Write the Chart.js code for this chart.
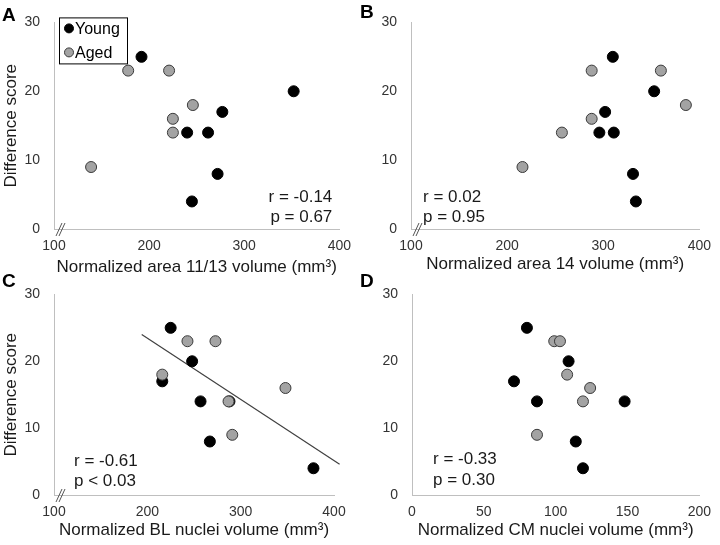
<!DOCTYPE html>
<html>
<head>
<meta charset="utf-8">
<script src="https://cdn.jsdelivr.net/npm/chart.js@4.4.0/dist/chart.umd.min.js"></script>
<style>
  body { margin: 0; background: #fff; }
  #wrap { position: relative; width: 720px; height: 545px; overflow: hidden; }
  #wrap canvas { position: absolute; }
</style>
</head>
<body>
<div id="wrap">
  <canvas id="chartA" width="360" height="290" style="left:0;top:0"></canvas>
  <canvas id="chartB" width="360" height="290" style="left:360px;top:0"></canvas>
  <canvas id="chartC" width="360" height="273" style="left:0;top:272px"></canvas>
  <canvas id="chartD" width="360" height="273" style="left:360px;top:272px"></canvas>
</div>
<script>
// difference scores, same animals in every panel
const youngScore = [25, 20, 17, 14, 14, 8, 4];
const agedScore = [23, 23, 18, 16, 14, 9];

// normalized volumes (mm3), same order as the scores above
const area1113Young = [192, 352, 277, 240, 262, 272, 245];
const area1113Aged = [178, 221, 246, 225, 225, 139];
const area14Young = [310, 353, 302, 296, 311, 331, 334];
const area14Aged = [288, 360, 386, 288, 257, 216];
const blYoung = [225, 248, 216, 257, 288, 267, 378];
const blAged = [243, 273, 216, 348, 287, 291];
const cmYoung = [80, 109, 71, 87, 148, 114, 119];
const cmAged = [99, 103, 108, 124, 119, 87];

// trend line in panel C
const blFitX = [194, 406];
const blFitY = [24.0, 4.6];

const FONT = '"Liberation Sans", Arial, sans-serif';
Chart.defaults.font.family = FONT;

const toPoints = (xs, ys) => xs.map((x, i) => ({ x: x, y: ys[i] }));

// panel letter, r/p text, legend box and the axis break
const decor = {
  id: 'decor',
  afterDraw(chart, args, o) {
    const ctx = chart.ctx;
    const a = chart.chartArea;
    ctx.save();
    ctx.fillStyle = '#000';
    ctx.font = 'bold 19px ' + FONT;
    ctx.textAlign = 'left';
    ctx.textBaseline = 'alphabetic';
    ctx.fillText(o.letter, o.letterX, o.letterY);

    ctx.font = '17px ' + FONT;
    ctx.fillStyle = '#1a1a1a';
    ctx.textAlign = o.statsAlign;
    const sx = o.statsAlign === 'right' ? a.right - o.statsDx : a.left + o.statsDx;
    ctx.fillText(o.stats[0], sx, a.bottom - o.statsDy[0]);
    ctx.fillText(o.stats[1], sx, a.bottom - o.statsDy[1]);

    if (o.axisBreak) {
      ctx.strokeStyle = '#555';
      ctx.lineWidth = 1;
      ctx.beginPath();
      ctx.moveTo(a.left + 2, a.bottom + 7);
      ctx.lineTo(a.left + 8, a.bottom - 6);
      ctx.moveTo(a.left + 5, a.bottom + 7);
      ctx.lineTo(a.left + 11, a.bottom - 6);
      ctx.stroke();
    }

    if (o.legend) {
      const lx = a.left + 5, ly = a.top - 5;
      ctx.strokeStyle = '#000';
      ctx.lineWidth = 1;
      ctx.strokeRect(lx + 0.5, ly + 0.5, 68, 46);
      ctx.font = '16px ' + FONT;
      ctx.textAlign = 'left';
      ctx.textBaseline = 'middle';
      const items = chart.data.datasets.filter(d => d.inLegend);
      items.forEach((d, i) => {
        const cy = ly + 11 + i * 24;
        ctx.beginPath();
        ctx.arc(lx + 10, cy, 4.5, 0, Math.PI * 2);
        ctx.fillStyle = d.backgroundColor;
        ctx.fill();
        ctx.strokeStyle = d.borderColor;
        ctx.stroke();
        ctx.fillStyle = '#000';
        ctx.fillText(d.label, lx + 16, cy + 1);
      });
    }
    ctx.restore();
  }
};

function makePanel(id, p) {
  const datasets = [
    {
      label: 'Aged', inLegend: true, order: 0,
      data: toPoints(p.agedX, agedScore),
      backgroundColor: '#a3a3a3', borderColor: '#3a3a3a',
      borderWidth: 1, pointRadius: 5.5
    },
    {
      label: 'Young', inLegend: true, order: 1,
      data: toPoints(p.youngX, youngScore),
      backgroundColor: '#000', borderColor: '#000',
      borderWidth: 1, pointRadius: 5.5
    }
  ];
  // legend lists Young first
  datasets.sort((d1, d2) => d2.order - d1.order);
  if (p.fitX) {
    datasets.push({
      label: 'fit', inLegend: false, order: 2,
      data: toPoints(p.fitX, p.fitY),
      showLine: true, pointRadius: 0, clip: false,
      borderColor: '#404040', borderWidth: 1.2
    });
  }

  return new Chart(document.getElementById(id), {
    type: 'scatter',
    data: { datasets: datasets },
    plugins: [decor],
    options: {
      responsive: false,
      animation: false,
      layout: { padding: { left: 0, top: p.padTop, right: p.padRight, bottom: 0 } },
      plugins: {
        legend: { display: false },
        tooltip: { enabled: false },
        decor: p.decor
      },
      scales: {
        x: {
          type: 'linear', min: p.xMin, max: p.xMax,
          grid: { display: false, drawTicks: false },
          border: { display: true, color: '#bfbfbf' },
          ticks: { stepSize: p.xStep, autoSkip: false, color: '#333', font: { size: 14 }, padding: 9 },
          title: { display: true, text: p.xTitle, color: '#1a1a1a', font: { size: 17 }, padding: { top: 0, bottom: p.xTitlePad } },
          afterFit(s) { s.height = p.xH; }
        },
        y: {
          min: 0, max: 30,
          grid: { display: false, drawTicks: false },
          border: { display: true, color: '#bfbfbf' },
          ticks: { stepSize: 10, color: '#333', font: { size: 14 }, padding: 14 },
          title: { display: p.yTitle, text: 'Difference score', color: '#1a1a1a', font: { size: 17 }, padding: { top: 1.5, bottom: 0 } },
          afterFit(s) { s.width = p.yW; }
        }
      }
    }
  });
}

makePanel('chartA', {
  youngX: area1113Young, agedX: area1113Aged,
  xMin: 100, xMax: 400, xStep: 100,
  xTitle: 'Normalized area 11/13 volume (mm³)', yTitle: true,
  padTop: 13, padRight: 12, yW: 54, xH: 61, xTitlePad: 12.8,
  decor: { letter: 'A', letterX: 2, letterY: 21, stats: ['r = -0.14', 'p = 0.67'],
           statsAlign: 'right', statsDx: 7, statsDy: [27, 7], axisBreak: true, legend: true }
});

makePanel('chartB', {
  youngX: area14Young, agedX: area14Aged,
  xMin: 100, xMax: 400, xStep: 100,
  xTitle: 'Normalized area 14 volume (mm³)', yTitle: false,
  padTop: 11, padRight: 15, yW: 51, xH: 61, xTitlePad: 15.3,
  decor: { letter: 'B', letterX: 0, letterY: 18, stats: ['r = 0.02', 'p = 0.95'],
           statsAlign: 'left', statsDx: 12, statsDy: [27.5, 7.5], axisBreak: true, legend: false }
});

makePanel('chartC', {
  youngX: blYoung, agedX: blAged, fitX: blFitX, fitY: blFitY,
  xMin: 100, xMax: 400, xStep: 100,
  xTitle: 'Normalized BL nuclei volume (mm³)', yTitle: true,
  padTop: 10, padRight: 26, yW: 54, xH: 50, xTitlePad: 4.8,
  decor: { letter: 'C', letterX: 2, letterY: 15, stats: ['r = -0.61', 'p < 0.03'],
           statsAlign: 'left', statsDx: 20, statsDy: [29.5, 9.5], axisBreak: true, legend: false }
});

makePanel('chartD', {
  youngX: cmYoung, agedX: cmAged,
  xMin: 0, xMax: 200, xStep: 50,
  xTitle: 'Normalized CM nuclei volume (mm³)', yTitle: false,
  padTop: 11, padRight: 15, yW: 52, xH: 50, xTitlePad: 4.8,
  decor: { letter: 'D', letterX: 0, letterY: 15, stats: ['r = -0.33', 'p = 0.30'],
           statsAlign: 'left', statsDx: 21, statsDy: [31, 10], axisBreak: false, legend: false }
});
</script>
</body>
</html>
